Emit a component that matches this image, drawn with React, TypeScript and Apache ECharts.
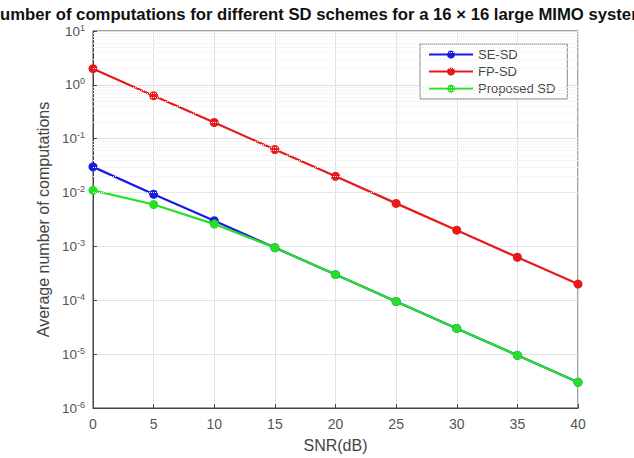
import React, { useEffect, useRef } from "react";
import * as echarts from "echarts";

const snr = [0, 5, 10, 15, 20, 25, 30, 35, 40];
const seSD = [0.03, 0.0093, 0.003, 0.00095, 0.0003, 0.000095, 0.00003, 0.0000095, 0.000003];
const fpSD = [2.0, 0.63, 0.2, 0.063, 0.02, 0.0063, 0.002, 0.00063, 0.0002];
const proposedSD = [0.011, 0.006, 0.0026, 0.00095, 0.0003, 0.000095, 0.00003, 0.0000095, 0.000003];
const yDecadeMin = -6;
const yDecadeMax = 1;
const titleText = "Number of computations for different SD schemes for a 16 \u00d7 16 large MIMO system";

const FONT = "Liberation Sans, Arial, sans-serif";

export default function App() {
  const ref = useRef<HTMLDivElement>(null);
  useEffect(() => {
    if (!ref.current) return;
    const chart = echarts.init(ref.current, undefined, { renderer: "svg" });
    const minorLines: any[] = [];
    for (let d = yDecadeMin; d < yDecadeMax; d++) {
      for (let k = 2; k <= 9; k++) {
        minorLines.push({ yAxis: k * Math.pow(10, d) });
      }
    }
    const mk = (name: string, data: number[], color: string) => ({
      name,
      type: "line",
      data: snr.map((x, i) => [x, data[i]]),
      symbol: "circle",
      symbolSize: 9,
      lineStyle: { color, width: 2.2 },
      itemStyle: { color },
      z: 3,
    });
    chart.setOption({
      animation: false,
      title: {
        text: titleText,
        left: "center",
        top: 0,
        textStyle: { fontFamily: FONT, fontWeight: "bold", fontSize: 16.7, color: "#111", lineHeight: 18 },
      },
      grid: {
        left: 93,
        right: 56,
        top: 31,
        bottom: 49,
        show: true,
        borderColor: "#444",
        borderWidth: 1,
        backgroundColor: "#fff",
      },
      legend: {
        orient: "vertical",
        left: 420,
        top: 44,
        itemWidth: 44,
        itemHeight: 10,
        itemGap: 4,
        padding: [4, 12, 4, 8],
        backgroundColor: "#fff",
        borderColor: "#888",
        borderWidth: 1,
        borderRadius: 0,
        textStyle: { fontFamily: FONT, fontSize: 13, color: "#444" },
        data: ["SE-SD", "FP-SD", "Proposed SD"],
      },
      xAxis: {
        type: "value",
        min: 0,
        max: 40,
        interval: 5,
        name: "SNR(dB)",
        nameLocation: "middle",
        nameGap: 29,
        nameTextStyle: { fontFamily: FONT, fontSize: 16, color: "#444" },
        axisLine: { show: true, lineStyle: { color: "#444" } },
        axisTick: { show: true, inside: true, length: 4, lineStyle: { color: "#444" } },
        axisLabel: { fontFamily: FONT, fontSize: 14, color: "#555", margin: 9 },
        splitLine: { show: true, lineStyle: { color: "#e2e2e2", width: 1 } },
      },
      yAxis: {
        type: "log",
        logBase: 10,
        min: Math.pow(10, yDecadeMin),
        max: Math.pow(10, yDecadeMax),
        name: "Average number of computations",
        nameLocation: "middle",
        nameGap: 40,
        nameTextStyle: { fontFamily: FONT, fontSize: 16, color: "#444" },
        axisLine: { show: true, lineStyle: { color: "#444" } },
        axisTick: { show: true, inside: true, length: 4, lineStyle: { color: "#444" } },
        axisLabel: {
          margin: 8,
          formatter: (v: number) => `{b|10}{s|${Math.round(Math.log10(v))}}`,
          rich: {
            b: { fontFamily: FONT, fontSize: 13.5, color: "#555" },
            s: { fontFamily: FONT, fontSize: 9, color: "#555", verticalAlign: "top", padding: [0, 0, 7, 0] },
          },
        },
        splitLine: { show: true, lineStyle: { color: "#e2e2e2", width: 1 } },
      },
      series: [
        {
          name: "minor",
          type: "line",
          data: [],
          silent: true,
          markLine: {
            silent: true,
            symbol: "none",
            label: { show: false },
            lineStyle: { color: "#ececec", type: "dotted", width: 1 },
            data: minorLines,
          },
          z: 1,
        },
        mk("SE-SD", seSD, "#1a1ae6"),
        mk("FP-SD", fpSD, "#e61a1a"),
        mk("Proposed SD", proposedSD, "#26e026"),
      ],
    });
    return () => chart.dispose();
  }, []);
  return <div ref={ref} style={{ width: 634, height: 458, position: "absolute", left: 0, top: 0, background: "#fff" }} />;
}
